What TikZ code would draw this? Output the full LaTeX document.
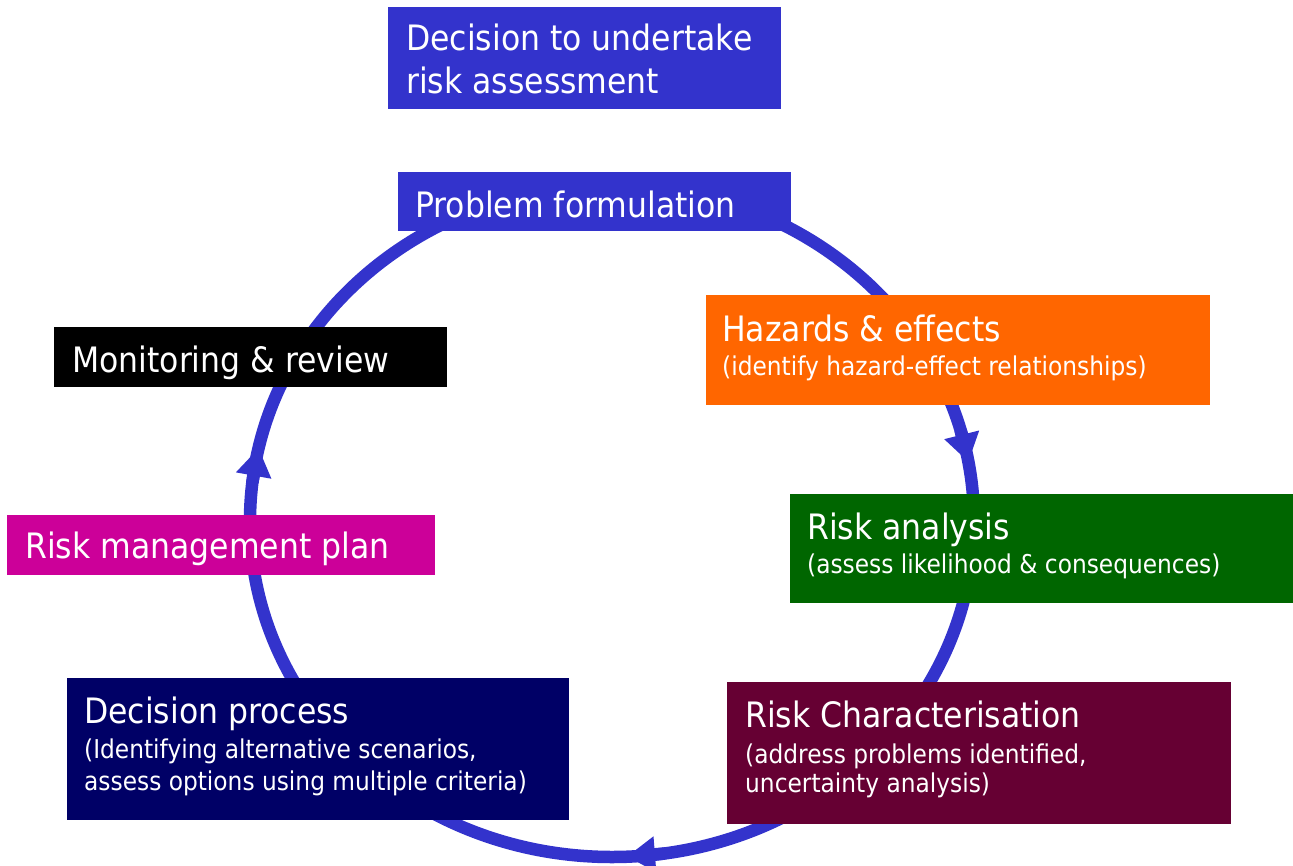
\documentclass[tikz,border=0pt]{standalone}
\usepackage{fontspec}
\setmainfont[FakeStretch=0.9]{DejaVu Sans}
\usetikzlibrary{arrows.meta}
\definecolor{ringblue}{HTML}{3333CC}
\definecolor{cOrange}{HTML}{FF6600}
\definecolor{cGreen}{HTML}{006600}
\definecolor{cMaroon}{HTML}{660033}
\definecolor{cNavy}{HTML}{000066}
\definecolor{cMagenta}{HTML}{CC0099}
\tikzset{
  boxnode/.style={rectangle, draw=none, inner sep=0pt, anchor=north west},
  ttl/.style={anchor=base west, inner sep=0pt, text=white, font=\fontsize{35}{41}\selectfont},
  sub/.style={anchor=base west, inner sep=0pt, text=white, font=\fontsize{25.9}{30}\selectfont},
  ring/.style={draw=ringblue, line width=12.5pt},
  tip/.style={ringblue, line width=12.5pt, -{Triangle[width=34pt,length=28pt]}}
}
\begin{document}
\begin{tikzpicture}[x=1pt,y=-1pt]
\useasboundingbox (0,0) rectangle (1293,865);
% ring
\coordinate (c) at (612,521);
\draw[ring] (c) ellipse [x radius=362, y radius=336];
\coordinate (r1) at (960.5,430); \coordinate (r2) at (968.4,462);
\coordinate (b1) at (665,853.5); \coordinate (b2) at (627,856.5);
\coordinate (l1) at (252.5,482); \coordinate (l2) at (258.6,448);
\draw[tip] (r1) -- (r2);
\draw[tip] (b1) -- (b2);
\draw[tip] (l1) -- (l2);
% boxes
\node[boxnode, fill=ringblue, minimum width=393pt, minimum height=102pt] (dec) at (388,7) {};
\node[boxnode, fill=ringblue, minimum width=393pt, minimum height=59pt] (prob) at (398,172) {};
\node[boxnode, fill=cOrange, minimum width=504pt, minimum height=110pt] (haz) at (706,295) {};
\node[boxnode, fill=cGreen, minimum width=503pt, minimum height=109pt] (ra) at (790,494) {};
\node[boxnode, fill=cMaroon, minimum width=504pt, minimum height=142pt] (rc) at (727,682) {};
\node[boxnode, fill=cNavy, minimum width=502pt, minimum height=142pt] (dp) at (67,678) {};
\node[boxnode, fill=cMagenta, minimum width=428pt, minimum height=60pt] (rmp) at (7,515) {};
\node[boxnode, fill=black, minimum width=393pt, minimum height=60pt] (mon) at (54,327) {};
% texts
\node[ttl] (decA) at (406,50) {Decision to undertake};
\node[ttl] (decB) at (406,93) {risk assessment};
\node[ttl] (probT) at (415,217) {Problem formulation};
\node[ttl] (hazT) at (722,341) {Hazards \& effects};
\node[sub] (hazS) at (722,375) {(identify hazard-effect relationships)};
\node[ttl] (raT) at (807,539) {Risk analysis};
\node[sub] (raS) at (807,573) {(assess likelihood \& consequences)};
\node[ttl] (rcT) at (745,727) {Risk Characterisation};
\node[sub] (rcS1) at (745,763) {(address problems identified,};
\node[sub] (rcS2) at (745,792) {uncertainty analysis)};
\node[ttl] (dpT) at (84,723) {Decision process};
\node[sub] (dpS1) at (84,758) {(Identifying alternative scenarios,};
\node[sub] (dpS2) at (84,790) {assess options using multiple criteria)};
\node[ttl] (rmpT) at (25,558) {Risk management plan};
\node[ttl] (monT) at (72,372) {Monitoring \& review};
\end{tikzpicture}
\end{document}
